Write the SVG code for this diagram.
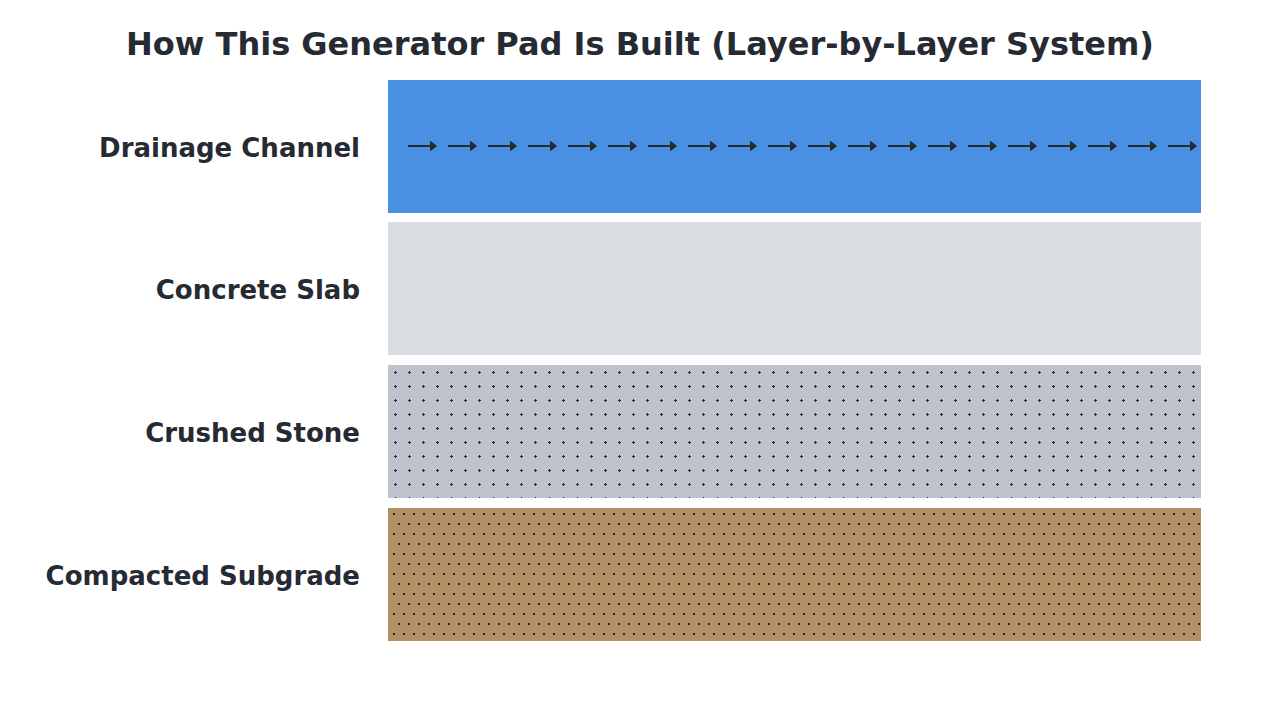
<svg xmlns="http://www.w3.org/2000/svg" width="1280" height="720" viewBox="0 0 1280 720">
<style>
text{font-family:"DejaVu Sans","Liberation Sans",sans-serif;font-weight:bold;fill:#262A33}
.t{font-size:32px}
.l{font-size:26px;text-anchor:end}
.arrow{stroke:#262A33;stroke-width:2}
</style>
<defs>
<marker id="ah" viewBox="0 0 7 11" refX="0" refY="5.5" markerWidth="7" markerHeight="11" markerUnits="userSpaceOnUse" orient="auto">
<path d="M0,0 L7,5.5 L0,11 Z" fill="#262A33"/>
</marker>
<pattern id="stone" x="388" y="365" width="14" height="14" patternUnits="userSpaceOnUse">
<rect x="7" y="6" width="1" height="3" fill="#262A33"/>
<rect x="6" y="7" width="3" height="1" fill="#262A33"/>
</pattern>
<pattern id="soil" x="393" y="508" width="10" height="20" patternUnits="userSpaceOnUse">
<rect x="0" y="5" width="2" height="2" fill="#262A33"/>
<rect x="5" y="15" width="2" height="2" fill="#262A33"/>
</pattern>
</defs>
<rect width="1280" height="720" fill="#ffffff"/>
<text class="t" x="640" y="55" text-anchor="middle">How This Generator Pad Is Built (Layer-by-Layer System)</text>
<g id="drainage">
<rect x="388" y="80" width="813" height="133" fill="#4A90E2"/>
<text class="l" x="360" y="157">Drainage Channel</text>
</g>
<g id="concrete">
<rect x="388" y="222" width="813" height="133" fill="#D9DCE0"/>
<text class="l" x="360" y="299">Concrete Slab</text>
</g>
<g id="stone-layer">
<rect x="388" y="365" width="813" height="133" fill="#BFC4CC"/>
<rect x="388" y="365" width="813" height="133" fill="url(#stone)"/>
<text class="l" x="360" y="442">Crushed Stone</text>
</g>
<g id="subgrade">
<rect x="388" y="508" width="813" height="133" fill="#B39066"/>
<rect x="392" y="508" width="809" height="133" fill="url(#soil)"/>
<text class="l" x="360" y="585">Compacted Subgrade</text>
</g>
<g id="connectors">
<path class="arrow" marker-end="url(#ah)" d="M408,146H430"/>
<path class="arrow" marker-end="url(#ah)" d="M448,146H470"/>
<path class="arrow" marker-end="url(#ah)" d="M488,146H510"/>
<path class="arrow" marker-end="url(#ah)" d="M528,146H550"/>
<path class="arrow" marker-end="url(#ah)" d="M568,146H590"/>
<path class="arrow" marker-end="url(#ah)" d="M608,146H630"/>
<path class="arrow" marker-end="url(#ah)" d="M648,146H670"/>
<path class="arrow" marker-end="url(#ah)" d="M688,146H710"/>
<path class="arrow" marker-end="url(#ah)" d="M728,146H750"/>
<path class="arrow" marker-end="url(#ah)" d="M768,146H790"/>
<path class="arrow" marker-end="url(#ah)" d="M808,146H830"/>
<path class="arrow" marker-end="url(#ah)" d="M848,146H870"/>
<path class="arrow" marker-end="url(#ah)" d="M888,146H910"/>
<path class="arrow" marker-end="url(#ah)" d="M928,146H950"/>
<path class="arrow" marker-end="url(#ah)" d="M968,146H990"/>
<path class="arrow" marker-end="url(#ah)" d="M1008,146H1030"/>
<path class="arrow" marker-end="url(#ah)" d="M1048,146H1070"/>
<path class="arrow" marker-end="url(#ah)" d="M1088,146H1110"/>
<path class="arrow" marker-end="url(#ah)" d="M1128,146H1150"/>
<path class="arrow" marker-end="url(#ah)" d="M1168,146H1190"/>
</g>
</svg>
